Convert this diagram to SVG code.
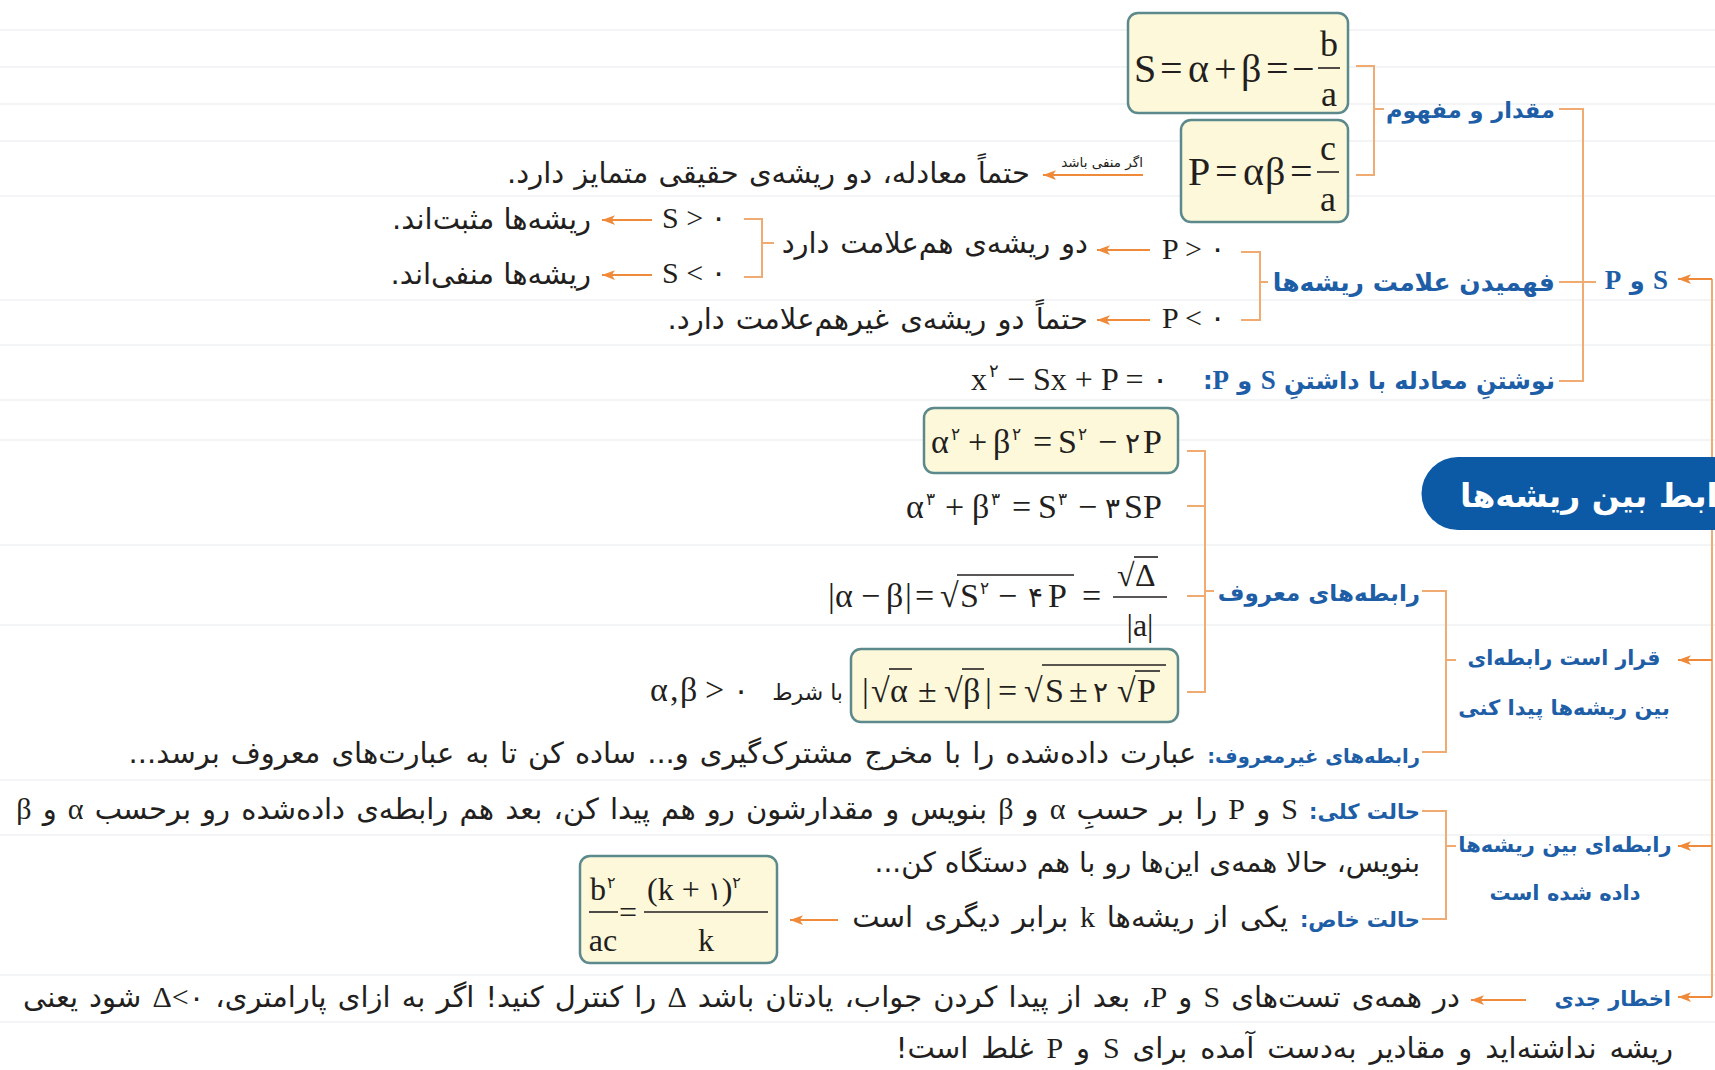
<svg xmlns="http://www.w3.org/2000/svg" width="1715" height="1070" viewBox="0 0 1715 1070">
<defs>
<marker id="ah" viewBox="0 0 12 9" refX="12" refY="4.5" markerWidth="13" markerHeight="10" orient="auto" markerUnits="userSpaceOnUse">
<path d="M0,0 L12,4.5 L0,9 L3,4.5 z" fill="#ef8a3a"/>
</marker>
<clipPath id="cv"><rect x="0" y="0" width="1715" height="1070"/></clipPath>
<style>
.fa{font-family:"DejaVu Sans",sans-serif;fill:#231f20;direction:rtl}
.lb{font-family:"DejaVu Sans",sans-serif;font-weight:bold;fill:#1d5ea6;direction:rtl}
.m{font-family:"Liberation Serif","DejaVu Sans",serif;fill:#231f20}
.mi{font-family:"Liberation Serif","DejaVu Sans",serif}
.br{fill:none;stroke:#f0ab72;stroke-width:2}
.ar{fill:none;stroke:#ef8a3a;stroke-width:2;marker-end:url(#ah)}
.box{fill:#fdf8da;stroke:#5c8a8c;stroke-width:2.5}
.rule{stroke:#eef0f2;stroke-width:1.5}
.ol{stroke:#231f20;stroke-width:1.6}
</style>
</defs>
<rect width="1715" height="1070" fill="#ffffff"/>
<g id="rules">
<line class="rule" x1="0" y1="30" x2="1715" y2="30"/>
<line class="rule" x1="0" y1="67" x2="1715" y2="67"/>
<line class="rule" x1="0" y1="104" x2="1715" y2="104"/>
<line class="rule" x1="0" y1="141" x2="1715" y2="141"/>
<line class="rule" x1="0" y1="196" x2="1715" y2="196"/>
<line class="rule" x1="0" y1="300" x2="1715" y2="300"/>
<line class="rule" x1="0" y1="345" x2="1715" y2="345"/>
<line class="rule" x1="0" y1="400" x2="1715" y2="400"/>
<line class="rule" x1="0" y1="440" x2="1715" y2="440"/>
<line class="rule" x1="0" y1="545" x2="1715" y2="545"/>
<line class="rule" x1="0" y1="625" x2="1715" y2="625"/>
<line class="rule" x1="0" y1="780" x2="1715" y2="780"/>
<line class="rule" x1="0" y1="835" x2="1715" y2="835"/>
<line class="rule" x1="0" y1="975" x2="1715" y2="975"/>
<line class="rule" x1="0" y1="1022" x2="1715" y2="1022"/>
</g>

<g id="connectors">
<path class="br" d="M1356,66 H1374 V175 H1356 M1374,109 H1384"/>
<path class="br" d="M1559,109 H1583 V381 H1559 M1559,282 H1596"/>
<path class="br" d="M1241,252 H1260 V320 H1241 M1260,282 H1268"/>
<path class="br" d="M744,219 H762 V277 H744 M762,243 H774"/>
<path class="br" d="M1187,451 H1205 V692 H1187 M1187,506 H1205 M1187,596 H1205 M1205,591 H1214"/>
<path class="br" d="M1422,591 H1446 V752 H1422 M1446,660 H1456"/>
<path class="br" d="M1422,811 H1446 V919 H1422 M1446,846 H1456"/>
<path class="br" d="M1712,279 V997"/>
<path class="ar" d="M1712,279 H1678"/>
<path class="ar" d="M1712,660 H1678"/>
<path class="ar" d="M1712,846 H1678"/>
<path class="ar" d="M1712,997 H1678"/>
<path class="ar" d="M1143,175 H1043"/>
<path class="ar" d="M1150,250 H1097"/>
<path class="ar" d="M1150,320 H1097"/>
<path class="ar" d="M652,220 H602"/>
<path class="ar" d="M652,275 H602"/>
<path class="ar" d="M838,920 H790"/>
<path class="ar" d="M1526,1000 H1471"/>
</g>

<g id="title">
<g clip-path="url(#cv)">
<path d="M1458,457 H1730 V530 H1458 A36.5,36.5 0 0 1 1458,457 z" fill="#0c59a6"/>
<text x="1460" y="507" text-anchor="end" style="direction:rtl;font-size:33px" font-family="DejaVu Sans, sans-serif" font-weight="bold" fill="#ffffff">روابط بین ریشه&#x200C;ها</text>
</g>
</g>

<g id="n-sp">
<text class="lb" x="1668" y="289" text-anchor="start" style="font-size:24px"><tspan class="mi" style="font-size:27px">S</tspan> و <tspan class="mi" style="font-size:27px">P</tspan></text>
</g>

<g id="n-meaning">
<text class="lb" x="1555" y="118" text-anchor="start" style="font-size:22.5px">مقدار و مفهوم</text>
</g>

<g id="n-boxS">
<rect class="box" x="1128" y="13" width="220" height="100" rx="10"/>
<text class="m" font-size="40" y="82"><tspan x="1134">S</tspan><tspan x="1160">=</tspan><tspan x="1188">α</tspan><tspan x="1214">+</tspan><tspan x="1241">β</tspan><tspan x="1266">=</tspan><tspan x="1292">−</tspan></text>
<text class="m" font-size="36" x="1329" y="56" text-anchor="middle">b</text>
<line class="ol" x1="1318" y1="68" x2="1340" y2="68"/>
<text class="m" font-size="36" x="1329" y="106" text-anchor="middle">a</text>
</g>

<g id="n-boxP">
<rect class="box" x="1181" y="120" width="167" height="102" rx="10"/>
<text class="m" font-size="40" y="185"><tspan x="1188">P</tspan><tspan x="1215">=</tspan><tspan x="1243">α</tspan><tspan x="1265">β</tspan><tspan x="1290">=</tspan></text>
<text class="m" font-size="36" x="1328" y="160" text-anchor="middle">c</text>
<line class="ol" x1="1317" y1="172" x2="1339" y2="172"/>
<text class="m" font-size="36" x="1328" y="211" text-anchor="middle">a</text>
</g>

<g id="n-neg">
<text class="fa" x="1143" y="167" text-anchor="start" style="font-size:13.5px">اگر منفی باشد</text>
<text class="fa" x="1030" y="183" text-anchor="start" style="font-size:29px;word-spacing:1px">حتماً معادله، دو ریشه&#x200C;ی حقیقی متمایز دارد.</text>
</g>

<g id="n-signs">
<text class="lb" x="1555" y="291" text-anchor="start" style="font-size:25px">فهمیدن علامت ریشه&#x200C;ها</text>
</g>

<g id="n-Ppos">
<text class="m" font-size="30" x="1162" y="259">P &gt; <tspan font-family="DejaVu Sans">۰</tspan></text>
<text class="fa" x="1088" y="253" text-anchor="start" style="font-size:29px;word-spacing:1.5px">دو ریشه&#x200C;ی هم&#x200C;علامت دارد</text>
</g>

<g id="n-Spos">
<text class="m" font-size="30" x="662" y="228">S &gt; <tspan font-family="DejaVu Sans">۰</tspan></text>
<text class="fa" x="591" y="229" text-anchor="start" style="font-size:29px">ریشه&#x200C;ها مثبت&#x200C;اند.</text>
</g>

<g id="n-Sneg">
<text class="m" font-size="30" x="662" y="283">S &lt; <tspan font-family="DejaVu Sans">۰</tspan></text>
<text class="fa" x="591" y="284" text-anchor="start" style="font-size:29px">ریشه&#x200C;ها منفی&#x200C;اند.</text>
</g>

<g id="n-Pneg">
<text class="m" font-size="30" x="1162" y="328">P &lt; <tspan font-family="DejaVu Sans">۰</tspan></text>
<text class="fa" x="1088" y="329" text-anchor="start" style="font-size:29px;word-spacing:2px">حتماً دو ریشه&#x200C;ی غیرهم&#x200C;علامت دارد.</text>
</g>

<g id="n-equation">
<text class="lb" x="1555" y="389" text-anchor="start" style="font-size:24px">نوشتنِ معادله با داشتنِ <tspan class="mi" style="font-size:27px">S</tspan> و <tspan class="mi" style="font-size:27px">P</tspan>:</text>
<text class="m" font-size="32" y="390"><tspan x="971">x</tspan><tspan x="989" dy="-13" font-size="18" font-family="DejaVu Sans">۲</tspan><tspan x="1007" dy="13">− Sx + P = </tspan><tspan font-family="DejaVu Sans">۰</tspan></text>
</g>

<g id="n-known">
<text class="lb" x="1420" y="601" text-anchor="start" style="font-size:23px">رابطه&#x200C;های معروف</text>
</g>

<g id="n-f1">
<rect class="box" x="924" y="408" width="254" height="65" rx="10"/>
<text class="m" font-size="34" y="453"><tspan x="931">α</tspan><tspan x="951" dy="-13" font-size="17" font-family="DejaVu Sans">۲</tspan><tspan x="968" dy="13">+</tspan><tspan x="993">β</tspan><tspan x="1012" dy="-13" font-size="17" font-family="DejaVu Sans">۲</tspan><tspan x="1033" dy="13">=</tspan><tspan x="1058">S</tspan><tspan x="1078" dy="-13" font-size="17" font-family="DejaVu Sans">۲</tspan><tspan x="1098" dy="13">−</tspan><tspan x="1125" font-family="DejaVu Sans" font-size="28">۲</tspan><tspan x="1143">P</tspan></text>
</g>

<g id="n-f2">
<text class="m" font-size="34" y="518"><tspan x="906">α</tspan><tspan x="926" dy="-13" font-size="17" font-family="DejaVu Sans">۳</tspan><tspan x="945" dy="13">+</tspan><tspan x="972">β</tspan><tspan x="991" dy="-13" font-size="17" font-family="DejaVu Sans">۳</tspan><tspan x="1012" dy="13">=</tspan><tspan x="1038">S</tspan><tspan x="1058" dy="-13" font-size="17" font-family="DejaVu Sans">۳</tspan><tspan x="1078" dy="13">−</tspan><tspan x="1105" font-family="DejaVu Sans" font-size="28">۳</tspan><tspan x="1124">SP</tspan></text>
</g>

<g id="n-f3">
<text class="m" font-size="34" y="607"><tspan x="828">|</tspan><tspan x="835">α</tspan><tspan x="861">−</tspan><tspan x="886">β</tspan><tspan x="905">|</tspan><tspan x="915">=</tspan><tspan x="940">√</tspan><tspan x="960">S</tspan><tspan x="980" dy="-13" font-size="17" font-family="DejaVu Sans">۲</tspan><tspan x="998" dy="13">−</tspan><tspan x="1028" font-family="DejaVu Sans" font-size="28">۴</tspan><tspan x="1048">P</tspan><tspan x="1082">=</tspan></text>
<line class="ol" x1="957" y1="575" x2="1074" y2="575"/>
<text class="m" font-size="32" y="586"><tspan x="1117">√</tspan><tspan x="1135">Δ</tspan></text>
<line class="ol" x1="1134" y1="557" x2="1158" y2="557"/>
<line class="ol" x1="1113" y1="597" x2="1167" y2="597"/>
<text class="m" font-size="32" x="1140" y="636" text-anchor="middle">|a|</text>
</g>

<g id="n-f4">
<rect class="box" x="851" y="649" width="327" height="73" rx="10"/>
<text class="m" font-size="34" y="702"><tspan x="862">|</tspan><tspan x="871">√</tspan><tspan x="890">α</tspan><tspan x="918">±</tspan><tspan x="944">√</tspan><tspan x="963">β</tspan><tspan x="985">|</tspan><tspan x="998">=</tspan><tspan x="1024">√</tspan><tspan x="1045">S</tspan><tspan x="1069">±</tspan><tspan x="1093" font-family="DejaVu Sans" font-size="28">۲</tspan><tspan x="1117">√</tspan><tspan x="1137">P</tspan></text>
<line class="ol" x1="889" y1="669" x2="912" y2="669"/>
<line class="ol" x1="962" y1="669" x2="984" y2="669"/>
<line class="ol" x1="1042" y1="665" x2="1166" y2="665"/>
<line class="ol" x1="1135" y1="671" x2="1160" y2="671"/>
<text class="fa" x="843" y="700" text-anchor="start" style="font-size:22px">با شرط</text>
<text class="m" font-size="34" y="701"><tspan x="650">α</tspan><tspan x="670">,</tspan><tspan x="680">β</tspan><tspan x="705">&gt;</tspan><tspan x="733" font-family="DejaVu Sans" font-size="30">۰</tspan></text>
</g>

<g id="n-find">
<text class="lb" x="1564" y="665" text-anchor="middle" style="font-size:20.5px">قرار است رابطه&#x200C;ای</text>
<text class="lb" x="1564" y="715" text-anchor="middle" style="font-size:21px">بین ریشه&#x200C;ها پیدا کنی</text>
</g>

<g id="n-unknown">
<text class="fa" x="1420" y="763" text-anchor="start" style="font-size:29px;word-spacing:1.8px"><tspan class="lb" style="font-size:19.5px;word-spacing:0">رابطه&#x200C;های غیرمعروف:</tspan> عبارت داده&#x200C;شده را با مخرج مشترک&#x200C;گیری و... ساده کن تا به عبارت&#x200C;های معروف برسد...</text>
</g>

<g id="n-given">
<text class="lb" x="1565" y="852" text-anchor="middle" style="font-size:21px">رابطه&#x200C;ای بین ریشه&#x200C;ها</text>
<text class="lb" x="1565" y="900" text-anchor="middle" style="font-size:21px">داده شده است</text>
</g>

<g id="n-general">
<text class="fa" x="1420" y="819" text-anchor="start" style="font-size:29px;word-spacing:1.9px"><tspan class="lb" style="font-size:21px;word-spacing:0">حالت کلی:</tspan> <tspan class="mi" style="font-size:30px">S</tspan> و <tspan class="mi" style="font-size:30px">P</tspan> را بر حسبِ <tspan class="mi" style="font-size:30px">α</tspan> و <tspan class="mi" style="font-size:30px">β</tspan> بنویس و مقدارشون رو هم پیدا کن، بعد هم رابطه&#x200C;ی داده&#x200C;شده رو برحسب <tspan class="mi" style="font-size:30px">α</tspan> و <tspan class="mi" style="font-size:30px">β</tspan></text>
<text class="fa" x="1420" y="872" text-anchor="start" style="font-size:28px">بنویس، حالا همه&#x200C;ی این&#x200C;ها رو با هم دستگاه کن...</text>
</g>

<g id="n-special">
<text class="fa" x="1420" y="927" text-anchor="start" style="font-size:29px;word-spacing:2.5px"><tspan class="lb" style="font-size:21px;word-spacing:0">حالت خاص:</tspan> یکی از ریشه&#x200C;ها <tspan class="mi" style="font-size:30px">k</tspan> برابر دیگری است</text>
</g>

<g id="n-kbox">
<rect class="box" x="580" y="856" width="197" height="107" rx="10"/>
<text class="m" font-size="32" y="900"><tspan x="590">b</tspan><tspan x="607" dy="-12" font-size="16" font-family="DejaVu Sans">۲</tspan></text>
<line class="ol" x1="589" y1="912" x2="618" y2="912"/>
<text class="m" font-size="32" x="603" y="951" text-anchor="middle">ac</text>
<text class="m" font-size="32" x="628" y="923" text-anchor="middle">=</text>
<text class="m" font-size="32" y="900"><tspan x="647">(k + </tspan><tspan font-family="DejaVu Sans" font-size="26">۱</tspan><tspan>)</tspan><tspan dy="-12" font-size="16" font-family="DejaVu Sans">۲</tspan></text>
<line class="ol" x1="644" y1="912" x2="768" y2="912"/>
<text class="m" font-size="32" x="706" y="951" text-anchor="middle">k</text>
</g>

<g id="n-warning">
<text class="lb" x="1671" y="1006" text-anchor="start" style="font-size:21px">اخطار جدی</text>
<text class="fa" x="1460" y="1007" text-anchor="start" style="font-size:29px;word-spacing:1.9px">در همه&#x200C;ی تست&#x200C;های <tspan class="mi" style="font-size:30px">S</tspan> و <tspan class="mi" style="font-size:30px">P</tspan>، بعد از پیدا کردن جواب، یادتان باشد <tspan class="mi" style="font-size:30px">Δ</tspan> را کنترل کنید! اگر به ازای پارامتری، <tspan class="mi" style="font-size:30px">Δ&lt;</tspan><tspan>۰</tspan> شود یعنی</text>
<text class="fa" x="1673" y="1058" text-anchor="start" style="font-size:29px;word-spacing:3.7px">ریشه نداشته&#x200C;اید و مقادیر به&#x200C;دست آمده برای <tspan class="mi" style="font-size:30px">S</tspan> و <tspan class="mi" style="font-size:30px">P</tspan> غلط است!</text>
</g>
</svg>
